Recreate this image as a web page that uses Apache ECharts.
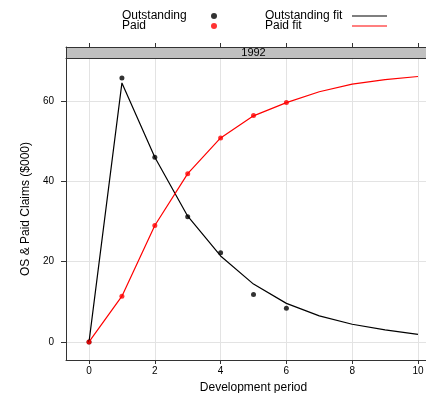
<!DOCTYPE html>
<html>
<head>
<meta charset="utf-8">
<script src="https://cdn.jsdelivr.net/npm/echarts@6/dist/echarts.min.js"></script>
<style>html,body{margin:0;padding:0;background:#fff}#c{width:426px;height:393px}</style>
</head>
<body>
<div id="c"></div>
<script>
const panelTitle = '1992';
const devPeriods = [0, 1, 2, 3, 4, 5, 6];
const outstanding = [0, 65.7, 46.0, 31.2, 22.2, 11.8, 8.4];
const paid = [0, 11.4, 29.0, 41.9, 50.8, 56.4, 59.6];
const fitPeriods = [0, 1, 2, 3, 4, 5, 6, 7, 8, 9, 10];
const outstandingFit = [0, 64.5, 46.0, 31.3, 21.4, 14.4, 9.6, 6.5, 4.4, 3.0, 1.9];
const paidFit = [0, 11.4, 29.0, 41.9, 50.8, 56.3, 59.6, 62.3, 64.2, 65.3, 66.1];
const xTicks = [0, 2, 4, 6, 8, 10];
const yTicks = [0, 20, 40, 60];

const FONT = 'Liberation Sans, Arial, sans-serif';
const zip = (xs, ys) => xs.map((x, i) => [x, ys[i]]);
const BORDER = {show: true, onZero: false, lineStyle: {color: '#333', width: 1}};

const chart = echarts.init(document.getElementById('c'), null, {renderer: 'canvas'});
chart.setOption({
  animation: false,
  backgroundColor: '#fff',
  textStyle: {fontFamily: FONT},
  legend: [
    {
      data: ['Outstanding', 'Paid'],
      orient: 'vertical', left: 117, top: 5, align: 'right',
      itemGap: -2, itemWidth: 6, itemHeight: 6,
      formatter: '{t|{name}}',
      textStyle: {fontFamily: FONT, fontSize: 12, color: '#000', lineHeight: 10,
        rich: {t: {width: 84, align: 'left', fontSize: 12, lineHeight: 10, fontFamily: FONT, color: '#000'}}}
    },
    {
      data: ['Outstanding fit', 'Paid fit'],
      orient: 'vertical', left: 260, top: 5, align: 'right',
      icon: 'rect', itemGap: -2, itemWidth: 35, itemHeight: 1,
      formatter: '{t|{name}}',
      textStyle: {fontFamily: FONT, fontSize: 12, color: '#000', lineHeight: 10,
        rich: {t: {width: 82, align: 'left', fontSize: 12, lineHeight: 10, fontFamily: FONT, color: '#000'}}}
    }
  ],
  grid: [
    {left: 66, top: 58, width: 375, height: 302, show: false, containLabel: false, outerBoundsMode: 'none'},
    {left: 66, top: 47, width: 375, height: 11, show: true, borderWidth: 0,
     backgroundColor: '#c0c0c0', containLabel: false, outerBoundsMode: 'none'}
  ],
  xAxis: [
    {
      type: 'value', gridIndex: 0, min: -0.7, max: 10.7, position: 'bottom',
      name: 'Development period', nameLocation: 'middle', nameGap: 22,
      nameTextStyle: {fontFamily: FONT, fontSize: 12, color: '#000'},
      axisLine: BORDER,
      axisTick: {show: true, length: 4, customValues: xTicks, lineStyle: {color: '#333'}},
      axisLabel: {customValues: xTicks, margin: 6, fontSize: 10, color: '#000', fontFamily: FONT},
      splitLine: {show: true, lineStyle: {color: '#e3e3e3', width: 1}}
    },
    {
      type: 'value', gridIndex: 0, min: -0.7, max: 10.7, position: 'top',
      axisLine: BORDER, axisTick: {show: false}, axisLabel: {show: false}, splitLine: {show: false}
    },
    {
      type: 'value', gridIndex: 1, min: -0.7, max: 10.7, position: 'top',
      axisLine: BORDER,
      axisTick: {show: true, length: 4, customValues: xTicks, lineStyle: {color: '#333'}},
      axisLabel: {show: false},
      splitLine: {show: false}
    }
  ],
  yAxis: [
    {
      type: 'value', gridIndex: 0, min: -4.5, max: 70.7, position: 'left',
      name: 'OS & Paid Claims ($000)', nameLocation: 'middle', nameGap: 23, nameRotate: 90,
      nameTextStyle: {fontFamily: FONT, fontSize: 12, color: '#000'},
      axisLine: BORDER,
      axisTick: {show: true, length: 5, customValues: yTicks, lineStyle: {color: '#333'}},
      axisLabel: {customValues: yTicks, margin: 12, fontSize: 10, color: '#000', fontFamily: FONT},
      splitLine: {show: true, lineStyle: {color: '#e3e3e3', width: 1}}
    },
    {type: 'value', gridIndex: 1, min: 0, max: 1, position: 'left',
     axisLine: BORDER, axisTick: {show: false}, axisLabel: {show: false}, splitLine: {show: false}}
  ],
  graphic: [
    {type: 'text', x: 253.5, y: 52.5, z: 100,
     style: {text: panelTitle, fill: '#000', font: '11px ' + FONT, textAlign: 'center', textVerticalAlign: 'middle'}}
  ],
  series: [
    {name: 'Outstanding fit', type: 'line', data: zip(fitPeriods, outstandingFit),
     symbol: 'none', color: '#000', lineStyle: {color: '#000', width: 1.2}},
    {name: 'Paid fit', type: 'line', data: zip(fitPeriods, paidFit),
     symbol: 'none', color: '#ff0000', lineStyle: {color: '#ff0000', width: 1.2}},
    {name: 'Outstanding', type: 'scatter', data: zip(devPeriods, outstanding),
     symbol: 'circle', symbolSize: 5, color: '#000', itemStyle: {color: '#000'}},
    {name: 'Paid', type: 'scatter', data: zip(devPeriods, paid),
     symbol: 'circle', symbolSize: 5, color: '#ff0000', itemStyle: {color: '#ff0000'}}
  ]
});
</script>
</body>
</html>
